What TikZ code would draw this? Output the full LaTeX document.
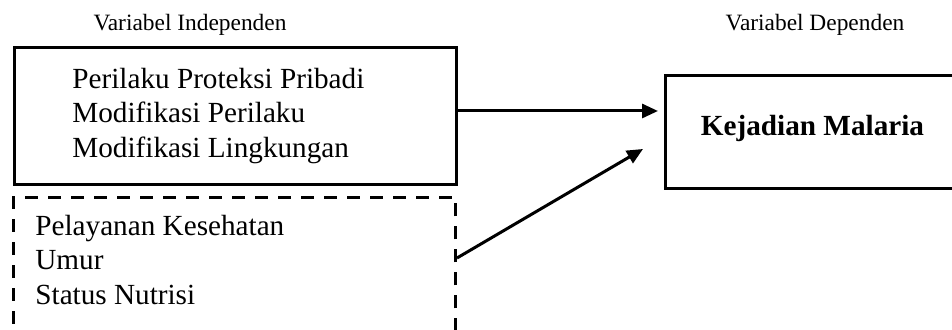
\documentclass[tikz,border=0pt]{standalone}
\usepackage{fontspec}
\setmainfont{Liberation Serif}
\usetikzlibrary{arrows.meta}
\begin{document}
\begin{tikzpicture}[x=0.5pt,y=-0.5pt,
  solidbox/.style={draw,line width=1.5pt,rectangle,inner sep=0pt,anchor=north west},
  dashbox/.style={draw,line width=1.5pt,rectangle,inner sep=0pt,anchor=north west,dash pattern=on 6.5pt off 5pt},
  bodytext/.style={align=left,inner sep=0pt,font=\fontsize{14.6}{17.2}\selectfont},
  headtext/.style={inner sep=0pt,font=\fontsize{11.7}{14}\selectfont},
  arr/.style={line width=1.5pt,-{Triangle[length=8pt,width=7pt]}}]
\useasboundingbox (0,0) rectangle (952,330);
\clip (0,0) rectangle (952,330);
\node[headtext,anchor=base] (hind) at (190,31) {Variabel Independen};
\node[headtext,anchor=base] (hdep) at (815,31) {Variabel Dependen};
\node[solidbox,minimum width=221pt,minimum height=68.5pt] (box1) at (13,46) {};
\node[bodytext,anchor=west] (t1) at (72,116) {Perilaku Proteksi Pribadi\\Modifikasi Perilaku\\Modifikasi Lingkungan};
\node[dashbox,minimum width=221pt,minimum height=76pt] (dbox) at (12,196) {};
\node[bodytext,anchor=west] (t2) at (35,260) {Pelayanan Kesehatan\\Umur\\Status Nutrisi};
\node[solidbox,minimum width=150pt,minimum height=56.5pt] (kej) at (664,74) {};
\node[inner sep=0pt,anchor=base,font=\fontsize{14.6}{17.2}\selectfont\bfseries] (kejt) at (812.5,136) {Kejadian Malaria};
\coordinate (e1) at (664,111);
\coordinate (e2) at (643,149);
\coordinate (s2) at (454,258);
\draw[arr,shorten >=3pt] (box1.east |- e1) -- (e1);
\draw[arr] (dbox.east |- s2) -- (e2);
\end{tikzpicture}
\end{document}
